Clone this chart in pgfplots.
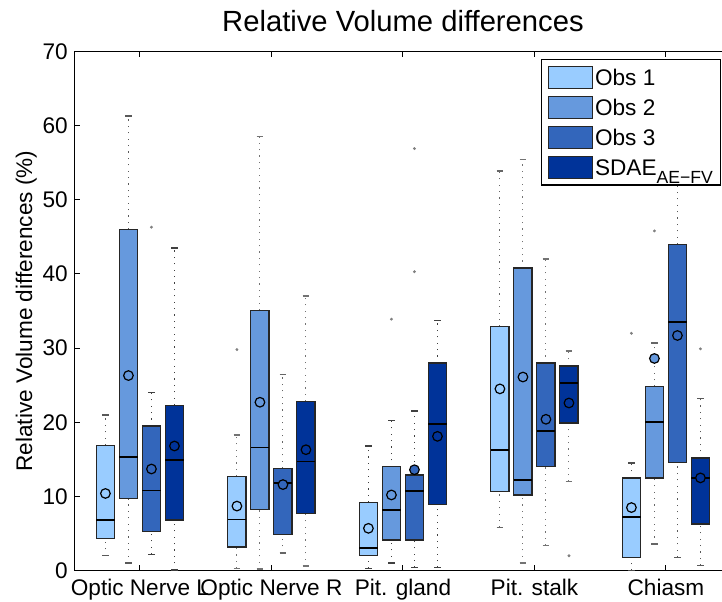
\documentclass[border=0pt]{standalone}
\usepackage{fontspec}
\setmainfont{Liberation Sans}
\usepackage{pgfplots}
\pgfplotsset{compat=1.18}
\usepgfplotslibrary{statistics}
\definecolor{cA}{RGB}{153,204,255}
\definecolor{cB}{RGB}{102,153,221}
\definecolor{cC}{RGB}{51,102,187}
\definecolor{cD}{RGB}{0,51,153}
\pgfplotsset{
  mybox/.style n args={2}{
    boxplot/draw direction=y,
    boxplot/box extend=0.14,
    boxplot/whisker extend=0.05,
    boxplot/every box/.style={draw=black!85, line width=0.7pt, fill=#1},
    boxplot/every median/.style={draw=black, line width=0.9pt},
    boxplot/draw/lower whisker/.code={
      \draw[#2, line width=0.5pt, dash pattern=on 0.6pt off 2.6pt]
        (boxplot box cs:\pgfplotsboxplotvalue{lower whisker},0.5) --
        (boxplot box cs:\pgfplotsboxplotvalue{lower quartile},0.5);
      \draw[#2, line width=0.7pt]
        (boxplot whisker cs:\pgfplotsboxplotvalue{lower whisker},0) --
        (boxplot whisker cs:\pgfplotsboxplotvalue{lower whisker},1);
    },
    boxplot/draw/upper whisker/.code={
      \draw[#2, line width=0.5pt, dash pattern=on 0.6pt off 2.6pt]
        (boxplot box cs:\pgfplotsboxplotvalue{upper quartile},0.5) --
        (boxplot box cs:\pgfplotsboxplotvalue{upper whisker},0.5);
      \draw[#2, line width=0.7pt]
        (boxplot whisker cs:\pgfplotsboxplotvalue{upper whisker},0) --
        (boxplot whisker cs:\pgfplotsboxplotvalue{upper whisker},1);
    },
  }
}
% color, whisker colour, pos, lw, lq, med, uq, uw, outliers
\newcommand{\bx}[9]{%
  \addplot[forget plot, mybox={#1}{#2},
    boxplot prepared={draw position=#3, lower whisker=#4, lower quartile=#5,
      median=#6, upper quartile=#7, upper whisker=#8},
    mark=*, mark size=0.5pt, mark options={draw=gray, fill=gray}]
    coordinates {#9};
}
\begin{document}
\begin{tikzpicture}
\begin{axis}[
  at={(0pt,0pt)}, anchor=south west,
  scale only axis, width=328.75pt, height=259.6pt,
  xmin=0.5, xmax=5.5, ymin=0, ymax=70,
  xtick={1,2,3,4,5},
  xticklabels={Optic Nerve L, Optic Nerve R, Pit. gland, Pit. stalk, Chiasm},
  ytick={0,10,...,70},
  tick align=inside, major tick length=3pt,
  tick style={black, line width=0.5pt},
  axis line style={black, line width=0.6pt},
  /pgf/number format/assume math mode=true,
  tick label style={font=\fontsize{11.3}{13}\selectfont},
  xticklabel style={anchor=base, yshift=-12.3pt},
  yticklabel style={inner sep=0pt, xshift=-3pt},
  ylabel={Relative Volume differences (\%)},
  ylabel style={at={(axis description cs:-0.0639,0.5)}, anchor=base, font=\fontsize{11.3}{13}\selectfont},
  title={Relative Volume differences},
  title style={at={(axis description cs:0.5,1)}, anchor=base, yshift=3.9pt, font=\fontsize{14.6}{17}\selectfont},
  legend image code/.code={\draw[#1, line width=0.6pt] (0pt,-5.4pt) rectangle (22pt,5.4pt);},
  legend style={at={(axis description cs:0.9844,0.9853)}, anchor=north east,
    draw=black, line width=0.6pt, fill=white,
    font=\fontsize{11.3}{13}\selectfont,
    inner xsep=3pt, inner ysep=2.4pt, row sep=2.1pt,
    nodes={inner sep=1pt, text height=9.5pt, text depth=1.4pt}},
  legend cell align=left,
]
% Optic Nerve L
\bx{cA}{black!65}{0.7375}{2.0}{4.3}{6.8}{16.9}{21.0}{}
\bx{cB}{black!65}{0.9125}{1.0}{9.7}{15.3}{46.0}{61.3}{}
\bx{cC}{black!75}{1.0875}{2.2}{5.3}{10.8}{19.5}{24.0}{(0,46.3)}
\bx{cD}{black!75}{1.2625}{0.1}{6.8}{14.9}{22.3}{43.5}{}
% Optic Nerve R
\bx{cA}{black!55}{1.7375}{0.3}{3.2}{6.9}{12.7}{18.3}{(0,29.8)}
\bx{cB}{black!55}{1.9125}{0.2}{8.2}{16.6}{35.1}{58.5}{}
\bx{cC}{black!60}{2.0875}{2.4}{4.9}{11.8}{13.8}{26.4}{}
\bx{cD}{black!55}{2.2625}{0.6}{7.7}{14.7}{22.8}{37.0}{}
% Pit. gland
\bx{cA}{black!75}{2.7375}{0.3}{2.0}{3.1}{9.2}{16.8}{}
\bx{cB}{black!75}{2.9125}{1.0}{4.1}{8.2}{14.0}{20.2}{(0,33.9)}
\bx{cC}{black!75}{3.0875}{0.4}{4.1}{10.7}{12.9}{21.5}{(0,56.9) (0,40.3)}
\bx{cD}{black!75}{3.2625}{0.4}{8.9}{19.8}{28.0}{33.7}{}
% Pit. stalk
\bx{cA}{black!60}{3.7375}{5.8}{10.7}{16.3}{32.9}{53.9}{}
\bx{cB}{black!55}{3.9125}{1.0}{10.2}{12.2}{40.8}{55.4}{}
\bx{cC}{black!55}{4.0875}{3.4}{14.0}{18.8}{28.0}{42.0}{}
\bx{cD}{black!55}{4.2625}{12.0}{19.9}{25.3}{27.6}{29.6}{(0,2.0)}
% Chiasm
\bx{cA}{black!70}{4.7375}{0.0}{1.8}{7.2}{12.5}{14.5}{(0,32.0)}
\bx{cB}{black!60}{4.9125}{3.6}{12.5}{20.0}{24.8}{30.7}{(0,45.8)}
\bx{cC}{black!65}{5.0875}{1.8}{14.6}{33.5}{44.0}{55.0}{}
\bx{cD}{black!65}{5.2625}{0.7}{6.3}{12.5}{15.2}{23.2}{(0,29.9)}
% means
\addplot[forget plot, only marks, mark=*, mark size=2.4pt, mark options={draw=black, fill=cA, line width=0.6pt}]
  coordinates {(0.7375,10.4) (1.7375,8.7) (2.7375,5.7) (3.7375,24.5) (4.7375,8.5)};
\addplot[forget plot, only marks, mark=*, mark size=2.4pt, mark options={draw=black, fill=cB, line width=0.6pt}]
  coordinates {(0.9125,26.3) (1.9125,22.7) (2.9125,10.2) (3.9125,26.1) (4.9125,28.6)};
\addplot[forget plot, only marks, mark=*, mark size=2.4pt, mark options={draw=black, fill=cC, line width=0.6pt}]
  coordinates {(1.0875,13.7) (2.0875,11.6) (3.0875,13.6) (4.0875,20.4) (5.0875,31.7)};
\addplot[forget plot, only marks, mark=*, mark size=2.4pt, mark options={draw=black, fill=cD, line width=0.6pt}]
  coordinates {(1.2625,16.8) (2.2625,16.3) (3.2625,18.1) (4.2625,22.6) (5.2625,12.5)};
\addlegendimage{fill=cA, draw=black!85}
\addlegendimage{fill=cB, draw=black!85}
\addlegendimage{fill=cC, draw=black!85}
\addlegendimage{fill=cD, draw=black!85}
\legend{Obs 1, Obs 2, Obs 3, {SDAE\raisebox{-3.8pt}{\fontsize{8.8}{10}\selectfont AE−FV}}}
\end{axis}
\pgfresetboundingbox
\useasboundingbox (-37.1pt,-15.2pt) rectangle (323.9pt,285.3pt);
\end{tikzpicture}
\end{document}
